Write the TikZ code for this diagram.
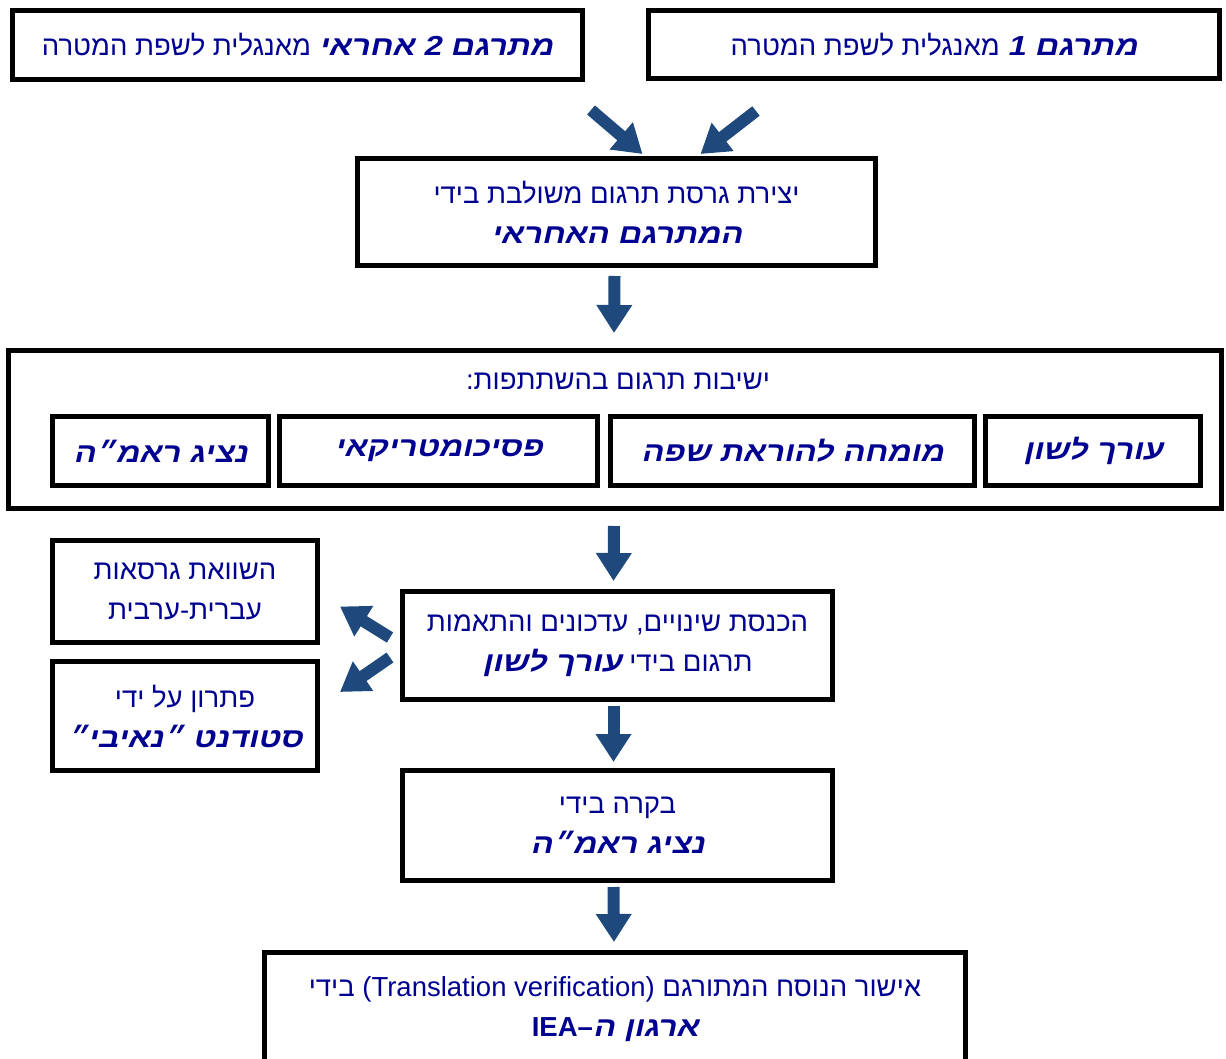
\documentclass[tikz,border=0pt]{standalone}
\usepackage{fontspec}
\usetikzlibrary{arrows.meta,calc}
\setmainfont{Liberation Sans}
\newfontfamily\heb[Script=Hebrew]{Liberation Sans}
\newfontfamily\scrf[Script=Hebrew,BoldFeatures={FakeSlant=0.22,FakeStretch=1.18}]{Liberation Sans}
\newcommand\scrtxt[1]{{\scrf\bfseries\fontsize{27.5}{40}\selectfont #1}}
\TeXXeTstate=1
\definecolor{txt}{RGB}{0,0,145}
\definecolor{arr}{RGB}{31,73,125}
\tikzset{
  box/.style={draw=black, line width=5pt, fill=white, text=txt, align=center, inner sep=0pt,
    font=\heb\fontsize{27.5}{40}\selectfont},
  barrow/.style={draw=arr, line width=12pt, line cap=butt, -{Triangle[width=34pt,length=28pt]}},
}
\begin{document}
\begin{tikzpicture}[x=1pt,y=-1pt]
\useasboundingbox (0,0) rectangle (1226,1059);
\node[box, minimum width=570pt, minimum height=69pt] (A) at (297.5,45)
  {\beginR\scrtxt{מתרגם 2 אחראי} מאנגלית לשפת המטרה\endR};
\node[box, minimum width=571pt, minimum height=68pt] (B) at (934,44.5)
  {\beginR\scrtxt{מתרגם 1} מאנגלית לשפת המטרה\endR};
\node[box, minimum width=518pt, minimum height=107pt] (C) at (616.5,212)
  {\beginR יצירת גרסת תרגום משולבת בידי\endR\\ \beginR\scrtxt{המתרגם האחראי}\endR};
\node[box, minimum width=1213pt, minimum height=158pt] (D) at (615,429.5) {};
\node[text=txt, font=\heb\fontsize{27.5}{40}\selectfont, inner sep=0pt] (Dt) at (618,381)
  {\beginR ישיבות תרגום בהשתתפות:\endR};
\node[box, minimum width=216pt, minimum height=69pt] (E1) at (160.5,451) {\beginR\scrtxt{נציג ראמ״ה}\endR};
\node[box, minimum width=318pt, minimum height=69pt] (E2) at (438.5,451) {\beginR\scrtxt{פסיכומטריקאי}\endR};
\node[box, minimum width=364pt, minimum height=69pt] (E3) at (792.5,451) {\beginR\scrtxt{מומחה להוראת שפה}\endR};
\node[box, minimum width=215pt, minimum height=69pt] (E4) at (1093,451) {\beginR\scrtxt{עורך לשון}\endR};
\node[box, minimum width=430pt, minimum height=108pt] (F) at (617.5,645.5)
  {\beginR הכנסת שינויים, עדכונים והתאמות\endR\\ \beginR תרגום בידי \scrtxt{עורך לשון}\endR};
\node[box, minimum width=265pt, minimum height=102pt] (G) at (185,591.5)
  {\beginR השוואת גרסאות\endR\\ \beginR עברית-ערבית\endR};
\node[box, minimum width=265pt, minimum height=109pt] (H) at (185,716)
  {\beginR פתרון על ידי\endR\\ \beginR\scrtxt{סטודנט ״נאיבי״}\endR};
\node[box, minimum width=430pt, minimum height=110pt] (I) at (617.5,825.5)
  {\beginR בקרה בידי\endR\\ \beginR\scrtxt{נציג ראמ״ה}\endR};
\node[box, minimum width=701pt, minimum height=113pt] (J) at (615,1009)
  {\beginR אישור הנוסח המתורגם \beginL{\rmfamily(Translation verification)}\endL{} בידי\endR\\
   \beginR\scrtxt{ארגון ה}{\bfseries –}\beginL{\rmfamily\bfseries IEA}\endL\endR};
\draw[barrow] ($(A.south east)+(6,28)$) -- ($(C.north)+(26,-2)$);
\draw[barrow] ($(B.south west)+(110,30)$) -- ($(C.north)+(84,-2)$);
\draw[barrow] ($(C.south)+(-2,8)$) -- ($(D.north)+(-1,-15)$);
\draw[barrow] ($(D.south)+(-1,15)$) -- ($(F.north)+(-4,-8)$);
\draw[barrow] ($(F.south)+(-4,4)$) -- ($(I.north)+(-4,-6)$);
\draw[barrow] ($(I.south)+(-4,4)$) -- ($(J.north)+(-1,-8)$);
\draw[barrow] ($(F.west)+(-10,-8)$) -- ($(G.east)+(20,15)$);
\draw[barrow] ($(F.west)+(-10,12)$) -- ($(H.east)+(20,-24)$);
\end{tikzpicture}
\end{document}
